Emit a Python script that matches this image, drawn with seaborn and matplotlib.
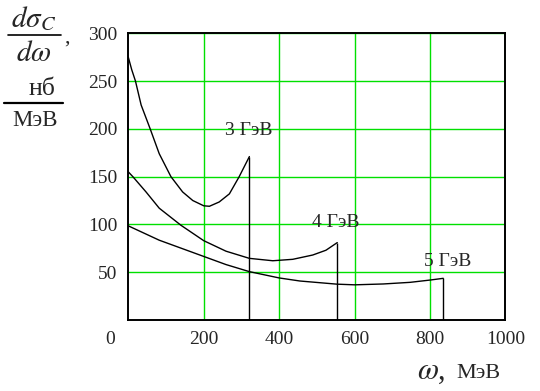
import matplotlib
matplotlib.use("Agg")
import matplotlib.pyplot as plt
import pandas as pd
import seaborn as sns
from matplotlib.lines import Line2D

# --- data ---
w_3gev = [0, 9, 19, 34, 58, 82, 113, 144, 171, 200, 215, 241, 268, 294, 321]
s_3gev = [275, 262, 250, 225, 200, 174, 150, 134, 125, 119.5, 119, 123.5, 132, 150, 171]

w_4gev = [0, 12, 47, 82, 140, 200, 259, 321, 383, 436, 489, 524, 554]
s_4gev = [155, 150, 134, 117, 99, 83, 72, 64.5, 62, 63.5, 68, 73, 81]

w_5gev = [0, 82, 200, 259, 321, 400, 455, 553, 600, 676, 747, 800, 835]
s_5gev = [98.5, 83.5, 66.5, 58, 50.6, 44, 40.8, 37.5, 36.8, 37.7, 39.4, 41.8, 43.6]

curve_names = ["3 ГэВ", "4 ГэВ", "5 ГэВ"]
label_pos_w = [256, 487, 784]
label_pos_s = [198, 102, 61]

x_ticks = [200, 400, 600, 800, 1000]
y_ticks = [50, 100, 150, 200, 250, 300]

frames = []
for name, w, s in zip(curve_names, [w_3gev, w_4gev, w_5gev], [s_3gev, s_4gev, s_5gev]):
    frames.append(pd.DataFrame({"omega": w, "sigma": s, "E": name}))
df = pd.concat(frames, ignore_index=True)

# --- style ---
sns.set_style("white")
plt.rcParams["font.family"] = ["Liberation Serif", "DejaVu Serif"]
plt.rcParams["mathtext.fontset"] = "stix"

fig = plt.figure(figsize=(5.4, 3.91), dpi=100)
ax = fig.add_axes([0.2376, 0.1816, 0.6985, 0.7332])

green = "#00e000"
for gx in x_ticks:
    ax.axvline(gx, color=green, lw=1.0, zorder=1)
for gy in y_ticks:
    ax.axhline(gy, color=green, lw=1.0, zorder=1)

for name in curve_names:
    sub = df[df["E"] == name]
    sns.lineplot(data=sub, x="omega", y="sigma", color="black", lw=1.0,
                 sort=False, ax=ax, zorder=3)
    # vertical drop at the kinematic endpoint
    ax.vlines(sub["omega"].iloc[-1], 0, sub["sigma"].iloc[-1], color="black", lw=1.0, zorder=3)

for name, lw_, ls_ in zip(curve_names, label_pos_w, label_pos_s):
    ax.text(lw_, ls_, name, fontsize=14, va="center", ha="left", zorder=4)

ax.set_xlim(0, 1000)
ax.set_ylim(0, 300)
ax.set_xticks(x_ticks)
ax.set_yticks(y_ticks)
ax.tick_params(axis="both", length=0, labelsize=14, pad=8)
ax.set_xlabel("")
ax.set_ylabel("")
for sp in ax.spines.values():
    sp.set_color("black")
    sp.set_linewidth(1.4)

# corner zero
fig.text(110 / 540, 1 - 340 / 391, "0", fontsize=14, ha="center", va="center")

# x axis label
fig.text(446 / 540, 1 - 371 / 391, r"$\omega$,", fontsize=22, ha="right", va="center")
fig.text(456 / 540, 1 - 373 / 391, "МэВ", fontsize=16, ha="left", va="center")

# y axis label: d sigma_C / d omega , nb / MeV
fig.text(34 / 540, 1 - 19 / 391, r"$d\sigma_C$", fontsize=21, ha="center", va="center")
fig.add_artist(Line2D([8 / 540, 61 / 540], [1 - 35 / 391, 1 - 35 / 391], color="black", lw=1.2))
fig.text(34 / 540, 1 - 54 / 391, r"$d\omega$", fontsize=21, ha="center", va="center")
fig.text(67 / 540, 1 - 38 / 391, ",", fontsize=16, ha="center", va="center")
fig.text(42 / 540, 1 - 89 / 391, "нб", fontsize=18.5, ha="center", va="center")
fig.add_artist(Line2D([4 / 540, 63 / 540], [1 - 103 / 391, 1 - 103 / 391], color="black", lw=1.6))
fig.text(35 / 540, 1 - 120 / 391, "МэВ", fontsize=16.5, ha="center", va="center")

fig.savefig("out.png", dpi=100, facecolor="white")
